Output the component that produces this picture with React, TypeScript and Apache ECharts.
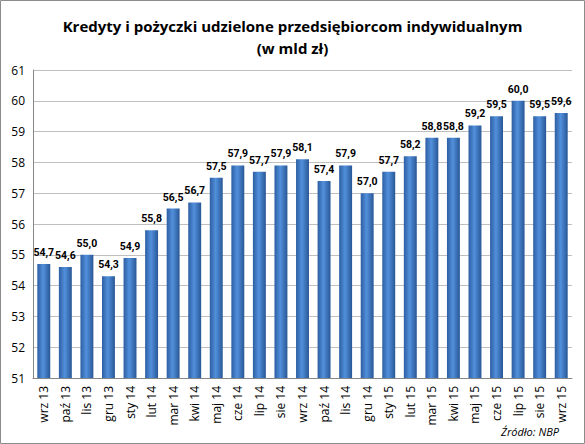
import React, { useEffect, useRef } from "react";
import * as echarts from "echarts";

const categories = [
  "wrz 13", "paź 13", "lis 13", "gru 13", "sty 14", "lut 14", "mar 14", "kwi 14",
  "maj 14", "cze 14", "lip 14", "sie 14", "wrz 14", "paź 14", "lis 14", "gru 14",
  "sty 15", "lut 15", "mar 15", "kwi 15", "maj 15", "cze 15", "lip 15", "sie 15", "wrz 15",
];
const values = [
  54.7, 54.6, 55.0, 54.3, 54.9, 55.8, 56.5, 56.7, 57.5, 57.9, 57.7, 57.9, 58.1,
  57.4, 57.9, 57.0, 57.7, 58.2, 58.8, 58.8, 59.2, 59.5, 60.0, 59.5, 59.6,
];
const titleLines = ["Kredyty i pożyczki udzielone przedsiębiorcom indywidualnym", "(w mld zł)"];
const sourceText = "Źródło: NBP";

export default function App() {
  const ref = useRef<HTMLDivElement>(null);
  useEffect(() => {
    if (!ref.current) return;
    const chart = echarts.init(ref.current, undefined, { renderer: "svg" });
    const font = "'Open Sans', 'Noto Sans', sans-serif";
    const labelFont = "Roboto, 'Noto Sans', sans-serif";
    chart.setOption({
      animation: false,
      backgroundColor: "#ffffff",
      title: {
        text: titleLines.join("\n"),
        left: "center",
        top: 10,
        textStyle: { fontFamily: font, fontSize: 15, fontWeight: "bold", color: "#000", lineHeight: 22 },
      },
      graphic: [
        {
          type: "rect",
          shape: { x: 0.5, y: 0.5, width: 584, height: 443 },
          style: { fill: "none", stroke: "#8c8c8c", lineWidth: 1 },
          silent: true,
        },
        {
          type: "text",
          right: 26,
          top: 426,
          style: { text: sourceText, fontFamily: font, fontSize: 11, fontStyle: "italic", fill: "#000" },
        },
      ],
      grid: { left: 33, right: 13, top: 70, bottom: 66 },
      xAxis: {
        type: "category",
        data: categories,
        axisLine: { lineStyle: { color: "#868686" } },
        axisTick: { show: false },
        axisLabel: { rotate: 90, fontFamily: font, fontSize: 12, color: "#000", margin: 8, interval: 0 },
      },
      yAxis: {
        type: "value",
        min: 51,
        max: 61,
        interval: 1,
        axisLine: { show: true, lineStyle: { color: "#868686" } },
        axisTick: { show: false },
        splitLine: { lineStyle: { color: "#bfbfbf" } },
        axisLabel: { fontFamily: font, fontSize: 12, color: "#000", margin: 8 },
      },
      series: [
        {
          type: "bar",
          data: values,
          barWidth: "60%",
          itemStyle: {
            color: new echarts.graphic.LinearGradient(0, 0, 1, 0, [
              { offset: 0, color: "#2d5ea2" },
              { offset: 0.45, color: "#5290dc" },
              { offset: 1, color: "#285796" },
            ]),
          },
          label: {
            show: true,
            position: "top",
            distance: 6,
            fontFamily: labelFont,
            fontSize: 10.5,
            fontWeight: "bold",
            color: "#000",
            formatter: (p: any) => p.value.toFixed(1).replace(".", ","),
          },
        },
      ],
    });
    return () => chart.dispose();
  }, []);
  return <div ref={ref} style={{ position: "fixed", left: 0, top: 0, width: 585, height: 444 }} />;
}
